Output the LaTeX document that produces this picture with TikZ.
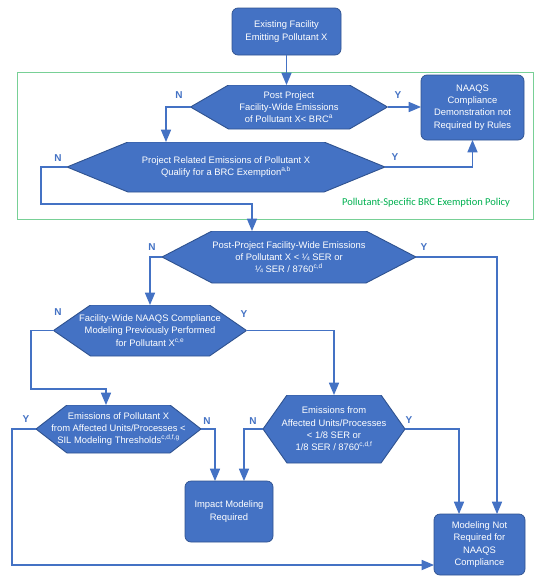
\documentclass[tikz,border=0pt]{standalone}
\usepackage{fontspec}
\setmainfont{Liberation Sans}
\newfontfamily\policyfont{Carlito}
\usetikzlibrary{arrows}
\definecolor{boxblue}{RGB}{68,114,196}
\definecolor{boxedge}{RGB}{47,82,143}
\definecolor{policygreen}{RGB}{0,176,80}
\definecolor{policyline}{RGB}{120,208,150}

\begin{document}
\begin{tikzpicture}[x=1pt,y=-1pt,>=triangle 45]
            \tikzset{terminal/.style 2 args = {rectangle, rounded corners=6pt, draw=boxedge, line width=0.7pt, fill=boxblue, text=white, align=center, font=\fontsize{9.4}{12.3}\selectfont, minimum width=#1, minimum height=#2, inner sep=0pt, outer sep=0pt}}
            \tikzset{decision/.style n args = {3}{rectangle, text=white, align=center, font=\fontsize{9.4}{12.3}\selectfont, minimum width=#1, minimum height=#2, inner sep=0pt, outer sep=0pt,
                path picture={\filldraw[fill=boxblue, draw=boxedge, line width=0.9pt] (path picture bounding box.west) -- ([xshift=#3]path picture bounding box.north west) -- ([xshift=-#3]path picture bounding box.north east) -- (path picture bounding box.east) -- ([xshift=-#3]path picture bounding box.south east) -- ([xshift=#3]path picture bounding box.south west) -- cycle;}}}
            \tikzset{answer/.style = {text=boxblue, inner sep=0pt, font=\bfseries\fontsize{10}{12}\selectfont}}
            \tikzset{flow/.style = {draw=boxblue, line width=1.9pt, ->}}
            \useasboundingbox (0,0) rectangle (546,584);
            % policy frame
            \node[draw=policyline, line width=1pt, minimum width=516, minimum height=147, inner sep=0pt] (policy) at (275,145.5) {};
            \node[text=policygreen, font=\policyfont\fontsize{10.5}{12}\selectfont, inner sep=0pt] (policytxt) at (426,203) {Pollutant-Specific BRC Exemption Policy};
            % vertices
            \node[terminal={109}{47}] (start) at (286.5,31.5) {Existing Facility\\Emitting Pollutant X};
            \node[decision={197}{44}{38}] (brc) at (289,107) {Post Project\\Facility-Wide Emissions\\of Pollutant X< BRC\textsuperscript{a}};
            \node[terminal={103}{65}] (norules) at (472.5,107.5) {NAAQS\\Compliance\\Demonstration not\\Required by Rules};
            \node[decision={318}{50}{61}] (exempt) at (226,167) {Project Related Emissions of Pollutant X\\Qualify for a BRC Exemption\textsuperscript{a,b}};
            \node[decision={254}{52}{50}] (quarter) at (289,257) {Post-Project Facility-Wide Emissions\\of Pollutant X < ¼ SER or\\¼ SER / 8760\textsuperscript{c,d}};
            \node[decision={193}{51}{37}] (prior) at (150,330.5) {Facility-Wide NAAQS Compliance\\Modeling Previously Performed\\for Pollutant X\textsuperscript{c,e}};
            \node[decision={165}{48}{31}] (sil) at (118.5,429) {Emissions of Pollutant X\\from Affected Units/Processes <\\SIL Modeling Thresholds\textsuperscript{c,d,f,g}};
            \node[decision={142}{68}{24}] (eighth) at (334,429) {Emissions from\\Affected Units/Processes\\< 1/8 SER or\\1/8 SER / 8760\textsuperscript{c,d,f}};
            \node[terminal={88}{61}] (impact) at (229,511.5) {Impact Modeling\\Required};
            \node[terminal={91}{61}] (notreq) at (479.5,544.5) {Modeling Not\\Required for\\NAAQS\\Compliance};
            % bends
            \coordinate (n1) at (166,107);
            \coordinate (n2a) at (41,204);
            \coordinate (n2b) at (252,204);
            \coordinate (y3) at (497,257);
            \coordinate (n4a) at (31,389);
            \coordinate (n4b) at (106,389);
            \coordinate (y6) at (12,565);
            \coordinate (n6) at (215,429);
            \coordinate (n5) at (244,429);
            \coordinate (y5) at (459,429);
            % edges
            \draw[flow] (start.south) -- (start.south |- brc.north);
            \draw[flow] (brc.east) -- (brc.east -| norules.west);
            \draw[flow] (brc.west) -- (n1) -- (n1 |- exempt.north);
            \draw[flow] (exempt.east) -| (norules.south);
            \draw[flow] (exempt.west) -| (n2a) -- (n2b) -- (n2b |- quarter.north);
            \draw[flow] (quarter.east) -- (y3) -- (y3 |- notreq.north);
            \draw[flow] (quarter.west) -| (prior.north);
            \draw[flow] (prior.west) -| (n4a) -- (n4b) -- (n4b |- sil.north);
            \draw[flow] (prior.east) -| (eighth.north);
            \draw[flow] (sil.west) -| (y6) -- (y6 -| notreq.west);
            \draw[flow] (sil.east) -- (n6) -- (n6 |- impact.north);
            \draw[flow] (eighth.west) -- (n5) -- (n5 |- impact.north);
            \draw[flow] (eighth.east) -- (y5) -- (y5 |- notreq.north);
            % answers
            \node[answer] (brcN) at (179,95) {N};
            \node[answer] (brcY) at (398,95) {Y};
            \node[answer] (exemptN) at (58,158) {N};
            \node[answer] (exemptY) at (395,157) {Y};
            \node[answer] (quarterN) at (152,247) {N};
            \node[answer] (quarterY) at (424,247) {Y};
            \node[answer] (priorN) at (58,312) {N};
            \node[answer] (priorY) at (244,314) {Y};
            \node[answer] (silY) at (26,419) {Y};
            \node[answer] (silN) at (207,421) {N};
            \node[answer] (eighthN) at (253,421) {N};
            \node[answer] (eighthY) at (409,420) {Y};
        \end{tikzpicture}
\end{document}
